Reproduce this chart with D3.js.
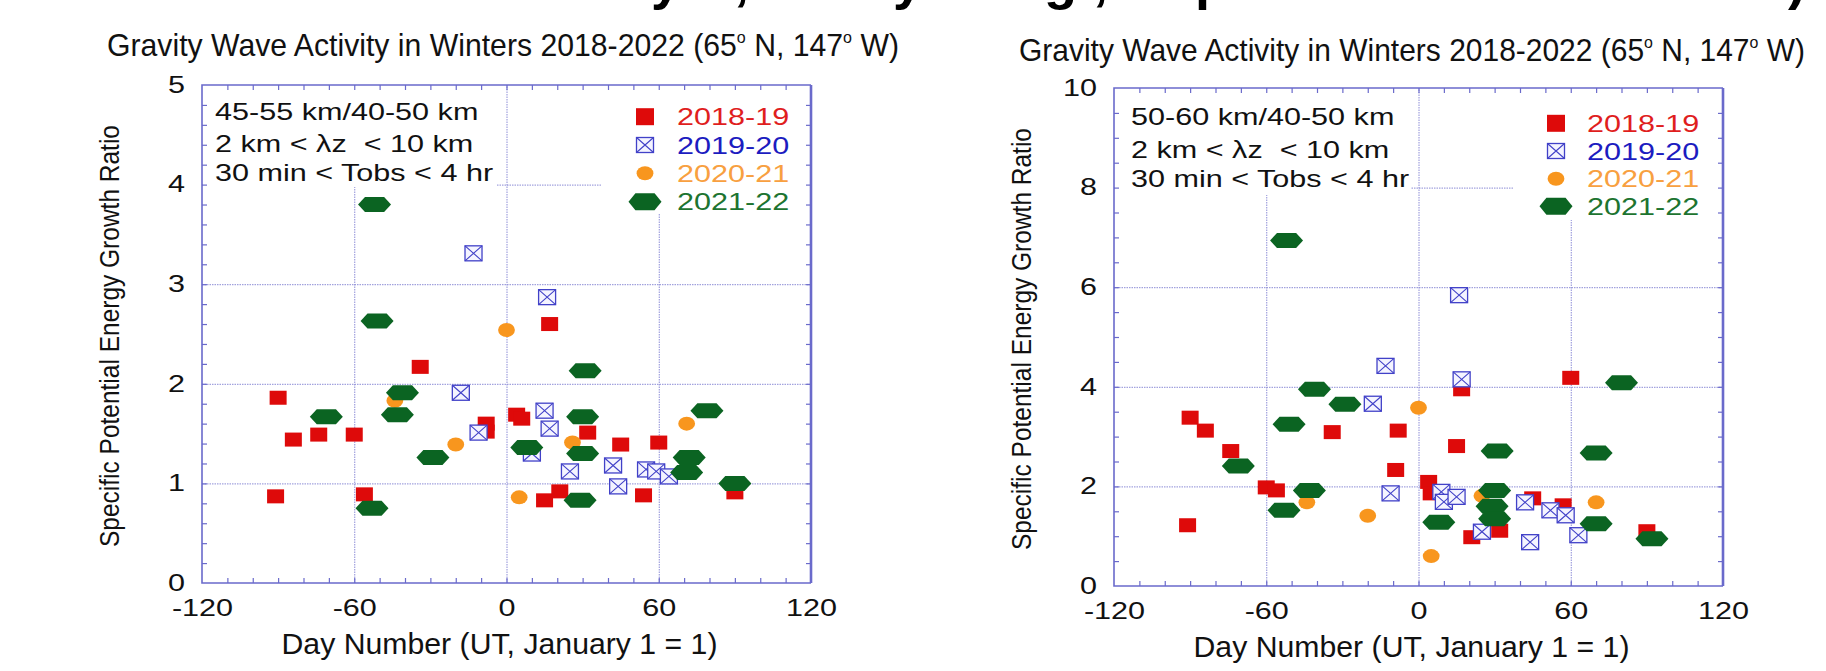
<!DOCTYPE html>
<html>
<head>
<meta charset="utf-8">
<script src="https://cdn.jsdelivr.net/npm/d3@7"></script>
<style>
  body { margin: 0; background: #fff; }
  svg { display: block; }
  text { font-family: "Liberation Sans", Arial, Helvetica, sans-serif; }
</style>
</head>
<body>
<svg id="fig" width="1826" height="671"></svg>
<script>
// ---- labels and ticks ----
const seasons = ["2018-19", "2019-20", "2020-21", "2021-22"];
const xTickValues = [-120, -60, 0, 60, 120];
const yTicksLow = [0, 1, 2, 3, 4, 5];
const yTicksHigh = [0, 2, 4, 6, 8, 10];
const boxLinesLow = ["45-55 km/40-50 km", "2 km < \u03bbz  < 10 km", "30 min < Tobs < 4 hr"];
const boxLinesHigh = ["50-60 km/40-50 km", "2 km < \u03bbz  < 10 km", "30 min < Tobs < 4 hr"];
const xTitle = "Day Number (UT, January 1 = 1)";
const yTitle = "Specific Potential Energy Growth Ratio";
// lower parts of the slide heading that run off the top edge: [glyph, left x]
const headingTail = [["y", 651], [",", 734], ["y", 893], ["g", 1044], [",", 1093], ["p", 1195], [")", 1788]];

// ---- 45-55 km / 40-50 km ratios: [day, ratio] ----
const low1819 = [[-91,0.87],[-90,1.86],[-84,1.44],[-74,1.49],[-60,1.49],[-56,0.89],[-34,2.17],
  [-8,1.60],[-8,1.52],[4,1.69],[6,1.65],[15,0.83],[17,2.60],[21,0.92],[32,1.51],[45,1.39],
  [54,0.88],[60,1.41],[90,0.91]];
const low1920 = [[-18,1.91],[-13,3.31],[-11,1.51],[10,1.30],[15,1.73],[16,2.87],[17,1.55],
  [25,1.12],[42,1.18],[44,0.97],[55,1.14],[59,1.12],[64,1.07]];
const low2021 = [[-44,1.83],[-20,1.39],[0,2.54],[5,0.86],[26,1.41],[71,1.60]];
const low2122 = [[-71,1.67],[-53,0.75],[-52,3.80],[-51,2.63],[-43,1.69],[-41,1.91],[-29,1.26],
  [8,1.36],[29,0.83],[30,1.30],[30,1.67],[31,2.13],[71,1.11],[72,1.26],[79,1.73],[90,1.00]];

// ---- 50-60 km / 40-50 km ratios: [day, ratio] ----
const high1819 = [[-91,1.22],[-90,3.38],[-84,3.12],[-74,2.71],[-60,1.98],[-56,1.92],[-34,3.09],
  [-9,2.33],[-8,3.12],[4,2.09],[5,1.86],[15,2.81],[17,3.95],[21,0.98],[32,1.11],[45,1.76],
  [57,1.62],[60,4.18],[90,1.10]];
const high1920 = [[-18,3.66],[-13,4.42],[-11,1.86],[9,1.89],[10,1.69],[15,1.79],[16,5.84],
  [17,4.15],[25,1.09],[42,1.68],[44,0.88],[52,1.52],[58,1.42],[63,1.02]];
const high2021 = [[-44,1.68],[-20,1.41],[0,3.58],[5,0.60],[25,1.81],[70,1.68]];
const high2122 = [[-71,2.41],[-53,1.52],[-52,6.94],[-51,3.25],[-43,1.92],[-41,3.95],[-29,3.65],
  [8,1.28],[29,1.60],[30,1.35],[30,1.92],[31,2.71],[70,1.25],[70,2.67],[80,4.08],[92,0.95]];

// ---- styling ----
const FRAME = "#6a6acb";
const GRID = "#8c8cd6";
const marker = {
  red:    { fill: "#de0a0a", text: "#e01e1e" },
  blue:   { fill: "#f4f4ff", stroke: "#4141c8", text: "#1c1cc0" },
  orange: { fill: "#f8961e", text: "#f8a040" },
  green:  { fill: "#0b6422", text: "#1d7430" }
};
const STRETCH = 1.33;   // wide sans used for numbers and annotations

const panels = [
  { x0: 202, x1: 811, y0: 85, y1: 583, ymax: 5, yTicks: yTicksLow, yMinorStep: 0.2,
    lines: boxLinesLow, series: [low1819, low1920, low2021, low2122],
    titleX: 107, titleW: 792, titleY: 56,
    boxRight: 497, boxBottom: 187, lineX: 215, lineY: [120, 151.7, 180.7],
    legLeft: 601, legBottom: 214, legSymX: 645, legTextX: 677, legRows: [116.7, 145, 173.3, 201.7] },
  { x0: 1114, x1: 1723, y0: 88, y1: 586, ymax: 10, yTicks: yTicksHigh, yMinorStep: 0.5,
    lines: boxLinesHigh, series: [high1819, high1920, high2021, high2122],
    titleX: 1019, titleW: 786, titleY: 61,
    boxRight: 1411, boxBottom: 195, lineX: 1131, lineY: [125, 158.3, 186.7],
    legLeft: 1513, legBottom: 220, legSymX: 1556, legTextX: 1587, legRows: [123.3, 151, 178.7, 206.3] }
];

const svg = d3.select("#fig");
svg.append("rect").attr("width", 1826).attr("height", 671).attr("fill", "#fff");

// heading tail along the top edge: only the descenders fall inside the figure
svg.append("g").selectAll("text").data(headingTail).join("text")
  .attr("transform", d => `translate(${d[1]},-1)`)
  .attr("dominant-baseline", "alphabetic")
  .attr("font-size", 54).attr("font-weight", "bold").attr("fill", "#000")
  .text(d => d[0]);

// widen a text element horizontally about its anchor point
function widen(sel, k) {
  sel.each(function () {
    const t = d3.select(this);
    const x = +t.attr("x") || 0, y = +t.attr("y") || 0;
    t.attr("x", 0).attr("y", 0).attr("transform", `translate(${x},${y}) scale(${k},1)`);
  });
}

const hexPath = (w, h) => {
  const a = w / 2, b = h / 2, f = a * 0.58;
  return `M${-a},0L${-f},${-b}L${f},${-b}L${a},0L${f},${b}L${-f},${b}Z`;
};

function drawMarker(g, kind, cx, cy) {
  if (kind === 0) {
    g.append("rect").attr("x", cx - 8.5).attr("y", cy - 7).attr("width", 17).attr("height", 14)
      .attr("fill", marker.red.fill);
  } else if (kind === 1) {
    const w = 17, h = 15;
    g.append("rect").attr("x", cx - w / 2).attr("y", cy - h / 2).attr("width", w).attr("height", h)
      .attr("fill", marker.blue.fill).attr("stroke", marker.blue.stroke).attr("stroke-width", 1.3);
    g.append("path")
      .attr("d", `M${cx - w / 2},${cy - h / 2}L${cx + w / 2},${cy + h / 2}M${cx + w / 2},${cy - h / 2}L${cx - w / 2},${cy + h / 2}`)
      .attr("stroke", marker.blue.stroke).attr("stroke-width", 1.1).attr("fill", "none");
  } else if (kind === 2) {
    g.append("ellipse").attr("cx", cx).attr("cy", cy).attr("rx", 8.4).attr("ry", 7)
      .attr("fill", marker.orange.fill);
  } else {
    g.append("path").attr("d", hexPath(33, 15)).attr("transform", `translate(${cx},${cy})`)
      .attr("fill", marker.green.fill);
  }
}

panels.forEach(p => {
  const x = d3.scaleLinear().domain([-120, 120]).range([p.x0, p.x1]);
  const y = d3.scaleLinear().domain([0, p.ymax]).range([p.y1, p.y0]);
  const w = p.x1 - p.x0, h = p.y1 - p.y0;
  const g = svg.append("g");

  // title
  const title = g.append("text").attr("x", p.titleX).attr("y", p.titleY)
    .attr("font-size", 32).attr("fill", "#111")
    .attr("textLength", p.titleW).attr("lengthAdjust", "spacingAndGlyphs");
  title.append("tspan").text("Gravity Wave Activity in Winters 2018-2022 (65");
  title.append("tspan").attr("font-size", 17).attr("dy", -13).text("o");
  title.append("tspan").attr("dy", 13).text(" N, 147");
  title.append("tspan").attr("font-size", 17).attr("dy", -13).text("o");
  title.append("tspan").attr("dy", 13).text(" W)");

  // dotted grid
  const gridX = g.append("g").attr("transform", `translate(0,${p.y1})`)
    .call(d3.axisBottom(x).tickValues([-60, 0, 60]).tickSize(-h).tickFormat(""));
  const gridY = g.append("g").attr("transform", `translate(${p.x0},0)`)
    .call(d3.axisLeft(y).tickValues(p.yTicks.filter(v => v > 0 && v < p.ymax)).tickSize(-w).tickFormat(""));
  [gridX, gridY].forEach(a => {
    a.select(".domain").remove();
    a.selectAll("line").attr("stroke", GRID).attr("stroke-width", 1).attr("stroke-dasharray", "1.5,1");
  });

  // white panels behind the annotation and the legend
  g.append("rect").attr("x", p.x0 + 1).attr("y", p.y0 + 1)
    .attr("width", p.boxRight - p.x0 - 1).attr("height", p.boxBottom - p.y0 - 1).attr("fill", "#fff");
  g.append("rect").attr("x", p.legLeft).attr("y", p.y0 + 1)
    .attr("width", p.x1 - p.legLeft - 1).attr("height", p.legBottom - p.y0 - 1).attr("fill", "#fff");

  // minor ticks on all four sides
  const xMinor = d3.range(-110, 120, 10);
  const yMinor = d3.range(1, Math.round(p.ymax / p.yMinorStep)).map(i => +(i * p.yMinorStep).toFixed(2));
  const tickAxes = [
    g.append("g").attr("transform", `translate(0,${p.y1})`).call(d3.axisBottom(x).tickValues(xMinor).tickSizeInner(-5).tickSizeOuter(0).tickFormat("")),
    g.append("g").attr("transform", `translate(0,${p.y0})`).call(d3.axisTop(x).tickValues(xMinor).tickSizeInner(-5).tickSizeOuter(0).tickFormat("")),
    g.append("g").attr("transform", `translate(${p.x0},0)`).call(d3.axisLeft(y).tickValues(yMinor).tickSizeInner(-5).tickSizeOuter(0).tickFormat("")),
    g.append("g").attr("transform", `translate(${p.x1},0)`).call(d3.axisRight(y).tickValues(yMinor).tickSizeInner(-5).tickSizeOuter(0).tickFormat(""))
  ];
  tickAxes.forEach(a => {
    a.select(".domain").remove();
    a.selectAll("line").attr("stroke", FRAME).attr("stroke-width", 1.2);
  });

  // frame
  g.append("path").attr("d", `M${p.x1},${p.y0}H${p.x0}V${p.y1}H${p.x1}`)
    .attr("fill", "none").attr("stroke", FRAME).attr("stroke-width", 1.6);
  g.append("line").attr("x1", p.x1).attr("x2", p.x1).attr("y1", p.y0).attr("y2", p.y1)
    .attr("stroke", FRAME).attr("stroke-width", 2.6);

  // tick labels
  const xl = g.append("g").attr("transform", `translate(0,${p.y1})`)
    .call(d3.axisBottom(x).tickValues(xTickValues).tickSize(0).tickPadding(17).tickFormat(d => String(d)));
  const yl = g.append("g").attr("transform", `translate(${p.x0},0)`)
    .call(d3.axisLeft(y).tickValues(p.yTicks).tickSize(0).tickPadding(17).tickFormat(d => String(d)));
  [xl, yl].forEach(a => {
    a.select(".domain").remove();
    a.attr("font-family", null);
    a.selectAll("text").attr("font-size", 23).attr("fill", "#111");
    widen(a.selectAll("text"), STRETCH);
  });

  // axis titles
  g.append("text").attr("x", (p.x0 + p.x1) / 2 - 7).attr("y", p.y1 + 71)
    .attr("text-anchor", "middle").attr("font-size", 29).attr("fill", "#111")
    .attr("textLength", 436).attr("lengthAdjust", "spacingAndGlyphs").text(xTitle);
  g.append("text").attr("transform", `translate(${p.x0 - 83},${(p.y0 + p.y1) / 2 + 2}) rotate(-90)`)
    .attr("text-anchor", "middle").attr("font-size", 27).attr("fill", "#111")
    .attr("textLength", 422).attr("lengthAdjust", "spacingAndGlyphs").text(yTitle);

  // annotation lines
  p.lines.forEach((s, i) => {
    const t = g.append("text").attr("x", p.lineX).attr("y", p.lineY[i])
      .attr("font-size", 23).attr("fill", "#111").style("white-space", "pre").text(s);
    widen(t, STRETCH);
  });

  // legend
  seasons.forEach((s, i) => {
    const cy = p.legRows[i];
    if (i === 3) {
      g.append("path").attr("d", hexPath(33, 17)).attr("transform", `translate(${p.legSymX},${cy})`)
        .attr("fill", marker.green.fill);
    } else if (i === 0) {
      g.append("rect").attr("x", p.legSymX - 9).attr("y", cy - 8.5).attr("width", 18).attr("height", 17)
        .attr("fill", marker.red.fill);
    } else {
      drawMarker(g, i, p.legSymX, cy);
    }
    const col = [marker.red.text, marker.blue.text, marker.orange.text, marker.green.text][i];
    const t = g.append("text").attr("x", p.legTextX).attr("y", cy + 8.5)
      .attr("font-size", 23).attr("fill", col).text(s);
    widen(t, STRETCH);
  });

  // data points
  const dots = g.append("g");
  [0, 2, 1, 3].forEach(k => {
    p.series[k].forEach(d => drawMarker(dots, k, x(d[0]), y(d[1])));
  });
});
</script>
</body>
</html>
